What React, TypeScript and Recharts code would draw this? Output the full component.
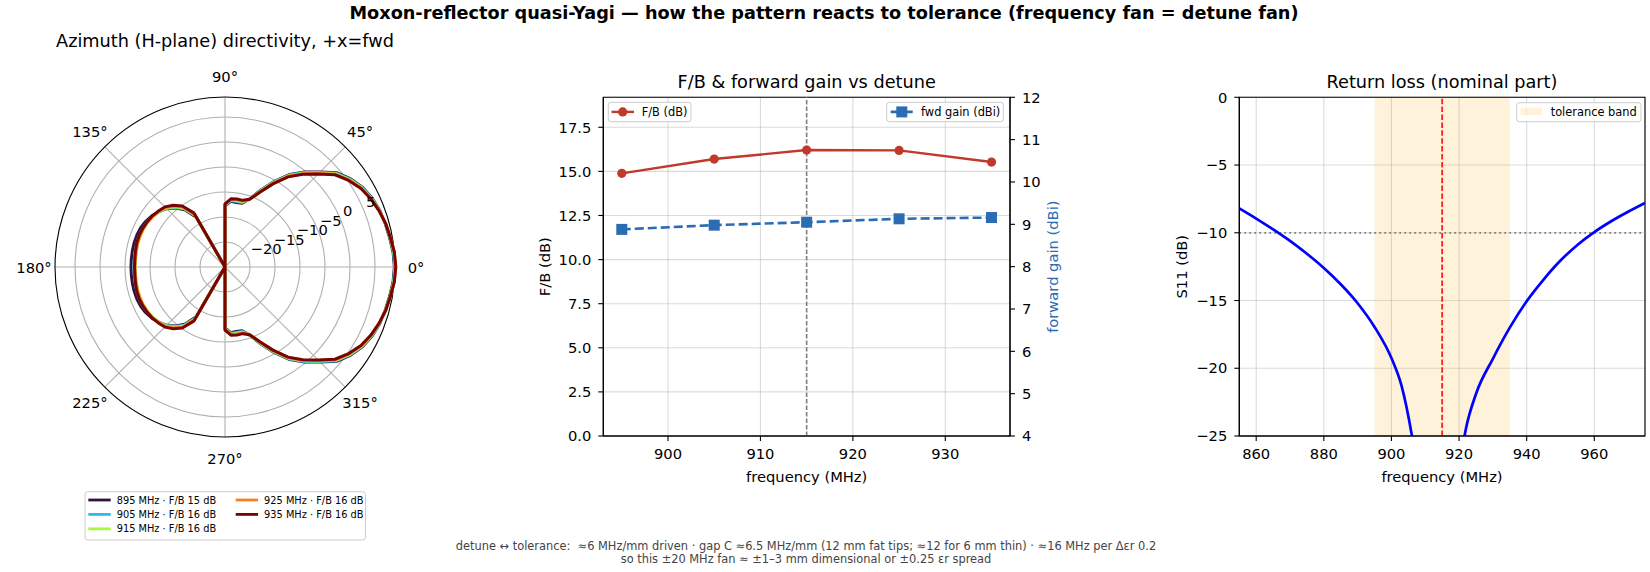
import React from 'react';
import {
  RadarChart, Radar, PolarGrid, PolarAngleAxis, PolarRadiusAxis,
  LineChart, Line, XAxis, YAxis, CartesianGrid, ReferenceLine, ReferenceArea,
} from 'recharts';

const FONT = '"DejaVu Sans", "Liberation Sans", Arial, sans-serif';

// ---------------- azimuth pattern (dBi) ----------------
const patternAngles = [
  0, 5, 10, 15, 20, 25, 30, 35, 40, 45, 50, 55, 60, 65, 70, 75, 80, 85,
  90, 95, 100, 105, 110, 115, 120, 125, 130, 135, 140, 145, 150, 155, 160, 165, 170, 175,
  180, 185, 190, 195, 200, 205, 210, 215, 220, 225, 230, 235, 240, 245, 250, 255, 260, 265,
  270, 275, 280, 285, 290, 295, 300, 305, 310, 315, 320, 325, 330, 335, 340, 345, 350, 355,
];

const pattern895 = [
  8.88, 8.75, 8.45, 8.2, 7.95, 7.5, 6.8, 5.7, 4.3, 1.9, -0.2, -2.4, -5.2, -8.0, -10.5, -11.8, -11.9, -11.8,
  -12.8, -25, -25, -25, -25, -25, -13.5, -11.0, -9.6, -8.5, -7.8, -7.15, -6.7, -6.4, -6.25, -6.2, -6.2, -6.2,
  -6.2, -6.2, -6.2, -6.2, -6.25, -6.4, -6.7, -7.15, -7.8, -8.5, -9.6, -11.0, -13.5, -25, -25, -25, -25, -25,
  -12.8, -11.8, -11.9, -11.8, -10.5, -8.0, -5.2, -2.4, -0.2, 1.9, 4.3, 5.7, 6.8, 7.5, 7.95, 8.2, 8.45, 8.75,
];
const pattern905 = [
  8.98, 8.85, 8.52, 8.25, 7.92, 7.43, 6.7, 5.58, 4.15, 1.75, -0.35, -2.55, -5.35, -8.1, -10.5, -11.65, -11.7, -11.65,
  -12.7, -25, -25, -25, -25, -25, -13.2, -10.8, -9.45, -8.45, -7.85, -7.35, -7.0, -6.8, -6.7, -6.7, -6.75, -6.8,
  -6.8, -6.8, -6.75, -6.7, -6.7, -6.8, -7.0, -7.35, -7.85, -8.45, -9.45, -10.8, -13.2, -25, -25, -25, -25, -25,
  -12.7, -11.65, -11.7, -11.65, -10.5, -8.1, -5.35, -2.55, -0.35, 1.75, 4.15, 5.58, 6.7, 7.43, 7.92, 8.25, 8.52, 8.85,
];
const pattern915 = [
  9.05, 8.92, 8.57, 8.28, 7.88, 7.35, 6.6, 5.45, 4.0, 1.6, -0.5, -2.7, -5.5, -8.25, -10.55, -11.5, -11.5, -11.5,
  -12.6, -25, -25, -25, -25, -25, -13.0, -10.6, -9.3, -8.35, -7.8, -7.4, -7.15, -7.0, -6.95, -6.95, -7.0, -7.05,
  -7.05, -7.05, -7.0, -6.95, -6.95, -7.0, -7.15, -7.4, -7.8, -8.35, -9.3, -10.6, -13.0, -25, -25, -25, -25, -25,
  -12.6, -11.5, -11.5, -11.5, -10.55, -8.25, -5.5, -2.7, -0.5, 1.6, 4.0, 5.45, 6.6, 7.35, 7.88, 8.28, 8.57, 8.92,
];
const pattern925 = [
  9.13, 8.98, 8.6, 8.3, 7.84, 7.28, 6.5, 5.32, 3.85, 1.45, -0.65, -2.85, -5.65, -8.4, -10.6, -11.35, -11.35, -11.4,
  -12.5, -25, -25, -25, -25, -25, -12.8, -10.35, -9.1, -8.2, -7.7, -7.35, -7.1, -6.95, -6.9, -6.9, -6.95, -7.0,
  -7.0, -7.0, -6.95, -6.9, -6.9, -6.95, -7.1, -7.35, -7.7, -8.2, -9.1, -10.35, -12.8, -25, -25, -25, -25, -25,
  -12.5, -11.4, -11.35, -11.35, -10.6, -8.4, -5.65, -2.85, -0.65, 1.45, 3.85, 5.32, 6.5, 7.28, 7.84, 8.3, 8.6, 8.98,
];
const pattern935 = [
  9.16, 9.0, 8.6, 8.3, 7.8, 7.2, 6.4, 5.2, 3.7, 1.3, -0.8, -3.0, -5.8, -8.5, -10.6, -11.2, -11.2, -11.3,
  -12.4, -25, -25, -25, -25, -25, -12.5, -10.1, -8.9, -8.0, -7.6, -7.2, -7.0, -6.8, -6.7, -6.7, -6.8, -6.9,
  -6.9, -6.9, -6.8, -6.7, -6.7, -6.8, -7.0, -7.2, -7.6, -8.0, -8.9, -10.1, -12.5, -25, -25, -25, -25, -25,
  -12.4, -11.3, -11.2, -11.2, -10.6, -8.5, -5.8, -3.0, -0.8, 1.3, 3.7, 5.2, 6.4, 7.2, 7.8, 8.3, 8.6, 9.0,
];

const detuneFreqs = [895, 905, 915, 925, 935];
const patternColors = ['#30123b', '#28bceb', '#a4fc3c', '#fb7e21', '#7a0403'];
const fbValues = [14.89, 15.7, 16.21, 16.19, 15.53];
const gainValues = [8.88, 8.98, 9.05, 9.13, 9.16];

const angleTicks = [0, 45, 90, 135, 180, 225, 270, 315];
const radiusTicks = [-20, -15, -10, -5, 0, 5];
const fbTicks = [0, 2.5, 5, 7.5, 10, 12.5, 15, 17.5];
const gainTicks = [4, 5, 6, 7, 8, 9, 10, 11, 12];
const detuneTicks = [900, 910, 920, 930];

// ---------------- return loss ----------------
const s11Freqs = [855, 860, 865, 870, 875, 880, 885, 890, 895, 900, 903, 906, 909, 913.5, 918, 920, 922, 925, 930, 935, 940, 945, 950, 955, 960, 965, 970, 975];
const s11Values = [-8.2, -8.95, -9.75, -10.6, -11.55, -12.6, -13.8, -15.2, -16.95, -19.25, -21.3, -24.9, -30, -45, -31, -27.5, -24.5, -21.9, -19.3, -17.0, -15.05, -13.45, -12.05, -10.9, -9.95, -9.15, -8.45, -7.8];
const s11FreqTicks = [860, 880, 900, 920, 940, 960];
const s11dBTicks = [-25, -20, -15, -10, -5, 0];
const nominalFreq = 915;
const toleranceBand = [895, 935];
const matchThreshold = -10;

// ---------------- tables ----------------
const patternSeries = [pattern895, pattern905, pattern915, pattern925, pattern935];
const patternRows = patternAngles.map((angle, i) => {
  const row: Record<string, number> = { angle };
  detuneFreqs.forEach((f, k) => { row[`f${f}`] = patternSeries[k][i]; });
  return row;
});
const detuneRows = detuneFreqs.map((freq, i) => ({ freq, fb: fbValues[i], gain: gainValues[i] }));
const s11Rows = s11Freqs.map((freq, i) => ({ freq, s11: s11Values[i] }));

const FB_COLOR = '#c0392b';
const GAIN_COLOR = '#2b6cb3';
const TICK_FS = 14.7;

const signed = (v: number, digits = 0) => {
  const s = Math.abs(v).toFixed(digits);
  return v < 0 ? `\u2212${s}` : s;
};

function AngleTick(props: any) {
  const { x, y, payload } = props;
  return (
    <text x={x} y={y} textAnchor="middle" dominantBaseline="central" fontFamily={FONT} fontSize={TICK_FS} fill="#000">
      {`${payload.value}°`}
    </text>
  );
}

function RadiusTick(props: any) {
  const { x, y, payload } = props;
  return (
    <text x={x + 2.5} y={y - 3} textAnchor="start" fontFamily={FONT} fontSize={TICK_FS} fill="#000">
      {signed(payload.value)}
    </text>
  );
}

function SquareDot(props: any) {
  const { cx, cy } = props;
  if (cx == null || cy == null) return <g />;
  return <rect x={cx - 5.5} y={cy - 5.5} width={11} height={11} fill={GAIN_COLOR} />;
}

const tickStyle = { fill: '#000', fontSize: TICK_FS, fontFamily: FONT };
const axisLineStyle = { stroke: '#000', strokeWidth: 1.1 };

export default function App() {
  return (
    <div style={{ position: 'absolute', left: 0, top: 0, width: 1650, height: 572, background: '#fff', overflow: 'hidden', fontFamily: FONT }}>
      {/* polar */}
      <div style={{ position: 'absolute', left: 0, top: 41.7, width: 450, height: 450 }}>
        <RadarChart width={450} height={450} data={patternRows} cx={225} cy={225} outerRadius={170}
          startAngle={0} endAngle={360} margin={{ top: 0, right: 0, bottom: 0, left: 0 }}>
          <PolarGrid gridType="circle" polarAngles={angleTicks} stroke="#b0b0b0" strokeWidth={1.1} />
          <PolarGrid gridType="circle" polarAngles={[]} polarRadius={[170]} stroke="#000" strokeWidth={1.1} />
          <PolarAngleAxis dataKey="angle" type="number" domain={[0, 360]} ticks={angleTicks} tick={AngleTick}
            tickLine={false} axisLine={false} tickSize={21} />
          <PolarRadiusAxis angle={22.5} type="number" domain={[-25, 9]} ticks={radiusTicks} allowDataOverflow
            tick={RadiusTick} tickLine={false} axisLine={false} />
          {detuneFreqs.map((f, k) => (
            <Radar key={f} dataKey={`f${f}`} stroke={patternColors[k]} strokeWidth={3} strokeLinejoin="round"
              fill="none" fillOpacity={0} dot={false} isAnimationActive={false} />
          ))}
        </RadarChart>
      </div>

      {/* F/B & gain */}
      <div style={{ position: 'absolute', left: 490, top: 60, width: 590, height: 440 }}>
        <LineChart width={590} height={440} data={detuneRows} margin={{ top: 37.3, right: 20, bottom: 24, left: 53.3 }}>
          <CartesianGrid yAxisId="left" stroke="#b0b0b0" strokeOpacity={0.45} strokeWidth={1.1} />
          <XAxis dataKey="freq" type="number" domain={[893, 937]} ticks={detuneTicks} interval={0} height={40}
            tick={tickStyle} tickLine={axisLineStyle} axisLine={axisLineStyle} tickSize={5} tickMargin={8} />
          <YAxis yAxisId="left" type="number" domain={[0, 19.2]} ticks={fbTicks} interval={0} width={60}
            tickFormatter={(v: number) => v.toFixed(1)} tick={tickStyle} tickLine={axisLineStyle} axisLine={axisLineStyle}
            tickSize={5} tickMargin={7} />
          <YAxis yAxisId="right" orientation="right" type="number" domain={[4, 12]} ticks={gainTicks} interval={0} width={50}
            tick={tickStyle} tickLine={axisLineStyle} axisLine={axisLineStyle} tickSize={5} tickMargin={7} />
          <ReferenceLine yAxisId="left" x={nominalFreq} stroke="#808080" strokeDasharray="4.5 2" strokeWidth={1.6} />
          <ReferenceArea yAxisId="left" x1={893} x2={937} y1={0} y2={19.2} fill="none" stroke="#000" strokeWidth={1.1} />
          <Line yAxisId="left" dataKey="fb" stroke={FB_COLOR} strokeWidth={2.4}
            dot={{ r: 4.6, fill: FB_COLOR, stroke: FB_COLOR, strokeWidth: 0 }} isAnimationActive={false} />
          <Line yAxisId="right" dataKey="gain" stroke={GAIN_COLOR} strokeWidth={2.6} strokeDasharray="9 4"
            dot={SquareDot} isAnimationActive={false} />
        </LineChart>
      </div>

      {/* return loss */}
      <div style={{ position: 'absolute', left: 1140, top: 60, width: 510, height: 440 }}>
        <LineChart width={510} height={440} data={s11Rows} margin={{ top: 37.3, right: 5, bottom: 24, left: 49.3 }}>
          <ReferenceArea x1={toleranceBand[0]} x2={toleranceBand[1]} fill="#ffa500" fillOpacity={0.14} stroke="none" />
          <CartesianGrid stroke="#b0b0b0" strokeOpacity={0.45} strokeWidth={1.1} />
          <XAxis dataKey="freq" type="number" domain={[855, 975]} ticks={s11FreqTicks} interval={0} allowDataOverflow height={40}
            tick={tickStyle} tickLine={axisLineStyle} axisLine={axisLineStyle} tickSize={5} tickMargin={8} />
          <YAxis type="number" domain={[-25, 0]} ticks={s11dBTicks} interval={0} allowDataOverflow width={50}
            tickFormatter={(v: number) => signed(v)} tick={tickStyle} tickLine={axisLineStyle} axisLine={axisLineStyle}
            tickSize={5} tickMargin={7} />
          <ReferenceLine y={matchThreshold} stroke="#808080" strokeDasharray="1.8 3.2" strokeWidth={1.8} />
          <ReferenceLine x={nominalFreq} stroke="#ff2020" strokeDasharray="5.5 2.4" strokeWidth={1.8} />
          <Line dataKey="s11" type="monotone" stroke="#0000ff" strokeWidth={2.7} dot={false} isAnimationActive={false} />
          <ReferenceArea x1={855} x2={975} y1={-25} y2={0} fill="none" stroke="#000" strokeWidth={1.1} />
        </LineChart>
      </div>

      {/* texts, legends */}
      <svg width={1650} height={572} style={{ position: 'absolute', left: 0, top: 0, pointerEvents: 'none' }} fontFamily={FONT}>
        <text x={824} y={18.5} textAnchor="middle" fontSize={17.7} fontWeight="bold" fill="#000">
          Moxon-reflector quasi-Yagi — how the pattern reacts to tolerance (frequency fan = detune fan)
        </text>
        <text x={225} y={46.5} textAnchor="middle" fontSize={17.7} fill="#000">Azimuth (H-plane) directivity, +x=fwd</text>
        <text x={806.7} y={87.5} textAnchor="middle" fontSize={17.7} fill="#000">F/B &amp; forward gain vs detune</text>
        <text x={1442} y={87.5} textAnchor="middle" fontSize={17.7} fill="#000">Return loss (nominal part)</text>

        <text x={806.7} y={476} textAnchor="middle" dominantBaseline="central" fontSize={TICK_FS} fill="#000">frequency (MHz)</text>
        <text x={1442} y={476} textAnchor="middle" dominantBaseline="central" fontSize={TICK_FS} fill="#000">frequency (MHz)</text>
        <text x={544.5} y={266.7} textAnchor="middle" dominantBaseline="central" fontSize={TICK_FS} fill="#000"
          transform="rotate(-90 544.5 266.7)">F/B (dB)</text>
        <text x={1053} y={266.7} textAnchor="middle" dominantBaseline="central" fontSize={TICK_FS} fill={GAIN_COLOR}
          transform="rotate(-90 1053 266.7)">forward gain (dBi)</text>
        <text x={1181.5} y={266.7} textAnchor="middle" dominantBaseline="central" fontSize={TICK_FS} fill="#000"
          transform="rotate(-90 1181.5 266.7)">S11 (dB)</text>

        {/* polar legend */}
        <rect x={85} y={491.7} width={280.5} height={48.3} rx={2.8} fill="#fff" fillOpacity={0.8} stroke="#cccccc" strokeWidth={1} />
        {detuneFreqs.map((f, k) => {
          const col = k < 3 ? 0 : 1;
          const row = k < 3 ? k : k - 3;
          const x0 = col === 0 ? 88.3 : 235.7;
          const y = 500 + row * 14.4;
          return (
            <g key={f}>
              <line x1={x0} x2={x0 + 22.4} y1={y} y2={y} stroke={patternColors[k]} strokeWidth={2.8} />
              <text x={x0 + 28.4} y={y} dominantBaseline="central" fontSize={9.8} fill="#000">
                {`${f} MHz · F/B ${Math.round(fbValues[k])} dB`}
              </text>
            </g>
          );
        })}

        {/* middle legends */}
        <rect x={608.3} y={102.3} width={82.7} height={19.4} rx={2.8} fill="#fff" fillOpacity={0.8} stroke="#cccccc" strokeWidth={1} />
        <line x1={611.5} x2={634} y1={111.9} y2={111.9} stroke={FB_COLOR} strokeWidth={2.4} />
        <circle cx={622.7} cy={111.9} r={4.6} fill={FB_COLOR} />
        <text x={641.7} y={111.9} dominantBaseline="central" fontSize={11.4} fill="#000">F/B (dB)</text>

        <rect x={886.7} y={102.3} width={116.6} height={19.4} rx={2.8} fill="#fff" fillOpacity={0.8} stroke="#cccccc" strokeWidth={1} />
        <line x1={890.7} x2={913} y1={111.9} y2={111.9} stroke={GAIN_COLOR} strokeWidth={2.6} strokeDasharray="9 4" />
        <rect x={896.3} y={106.4} width={11} height={11} fill={GAIN_COLOR} />
        <text x={921} y={111.9} dominantBaseline="central" fontSize={11.4} fill="#000">fwd gain (dBi)</text>

        {/* right legend */}
        <rect x={1516.7} y={102.7} width={124.3} height={19} rx={2.8} fill="#fff" fillOpacity={0.8} stroke="#cccccc" strokeWidth={1} />
        <rect x={1520.7} y={107.7} width={21.3} height={7.3} fill="#ffa500" fillOpacity={0.15} />
        <text x={1550.7} y={111.9} dominantBaseline="central" fontSize={11.4} fill="#000">tolerance band</text>

        {/* footnote */}
        <text x={806} y={549.5} textAnchor="middle" fontSize={11.4} fill="#444" style={{ whiteSpace: 'pre' }}>
          {'detune \u2194 tolerance:  \u22486 MHz/mm driven \u00b7 gap C \u22486.5 MHz/mm (12 mm fat tips; \u224812 for 6 mm thin) \u00b7 \u224816 MHz per \u0394\u03b5r 0.2'}
        </text>
        <text x={806} y={563} textAnchor="middle" fontSize={11.4} fill="#444">
          {'so this \u00b120 MHz fan \u2248 \u00b11\u20133 mm dimensional or \u00b10.25 \u03b5r spread'}
        </text>
      </svg>
    </div>
  );
}
